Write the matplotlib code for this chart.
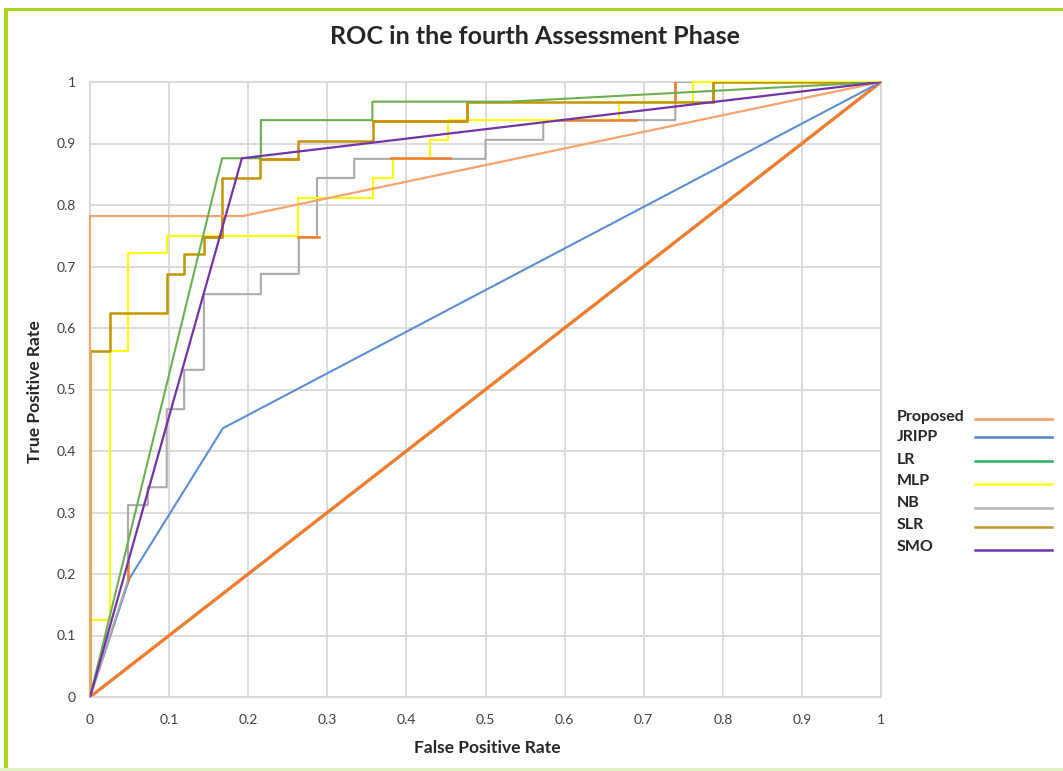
import numpy as np
import matplotlib
matplotlib.use("Agg")
import matplotlib.pyplot as plt
from matplotlib.lines import Line2D
from matplotlib.patches import Rectangle

# ---- data ----
prop_fpr = [0, 0, 0.193, 1]
prop_tpr = [0, 0.782, 0.782, 1]

jripp_fpr = [0, 0.05, 0.168, 1]
jripp_tpr = [0, 0.193, 0.437, 1]

lr_fpr = [0, 0.167, 0.216, 0.216, 0.357, 0.357, 0.53, 1]
lr_tpr = [0, 0.876, 0.876, 0.938, 0.938, 0.968, 0.968, 1]

mlp_fpr = [0, 0, 0.025, 0.025, 0.048, 0.048, 0.097, 0.097, 0.263, 0.263, 0.358, 0.358,
           0.383, 0.383, 0.43, 0.43, 0.452, 0.452, 0.669, 0.669, 0.762, 0.762, 1.0]
mlp_tpr = [0, 0.125, 0.125, 0.563, 0.563, 0.722, 0.722, 0.75, 0.75, 0.811, 0.811, 0.844,
           0.844, 0.875, 0.875, 0.906, 0.906, 0.938, 0.938, 0.967, 0.967, 1.0, 1.0]

nb_fpr = [0, 0.048, 0.048, 0.073, 0.073, 0.097, 0.097, 0.119, 0.119, 0.144, 0.144, 0.216,
          0.216, 0.264, 0.264, 0.287, 0.287, 0.334, 0.334, 0.5, 0.5, 0.573, 0.573, 0.74,
          0.74, 1.0]
nb_tpr = [0, 0.19, 0.312, 0.312, 0.341, 0.341, 0.468, 0.468, 0.532, 0.532, 0.655, 0.655,
          0.688, 0.688, 0.748, 0.748, 0.844, 0.844, 0.875, 0.875, 0.906, 0.906, 0.938, 0.938,
          1.0, 1.0]

slr_fpr = [0, 0, 0.025, 0.025, 0.097, 0.097, 0.119, 0.119, 0.144, 0.144, 0.167, 0.167,
           0.215, 0.215, 0.263, 0.263, 0.358, 0.358, 0.477, 0.477, 0.788, 0.788, 1.0]
slr_tpr = [0, 0.563, 0.563, 0.625, 0.625, 0.688, 0.688, 0.72, 0.72, 0.748, 0.748, 0.844,
           0.844, 0.875, 0.875, 0.904, 0.904, 0.937, 0.937, 0.967, 0.967, 1.0, 1.0]

smo_fpr = [0, 0.192, 1]
smo_tpr = [0, 0.876, 1]

# unlabelled series: thick diagonal and orange fragments
diag_fpr = [0, 1]
diag_tpr = [0, 1]

frag_fpr = [0.048, 0.048, np.nan, 0.143, 0.167, 0.167, np.nan, 0.215, 0.263, np.nan,
            0.263, 0.29, np.nan, 0.358, 0.477, 0.477, np.nan, 0.38, 0.455, np.nan,
            0.594, 0.69, np.nan, 0.74, 0.74, np.nan, 0.788, 0.788]
frag_tpr = [0.19, 0.22, np.nan, 0.748, 0.748, 0.78, np.nan, 0.875, 0.875, np.nan,
            0.748, 0.748, np.nan, 0.937, 0.937, 0.967, np.nan, 0.876, 0.876, np.nan,
            0.938, 0.938, np.nan, 0.967, 1.0, np.nan, 0.967, 1.0]

labels = ["Proposed", "JRIPP", "LR", "MLP", "NB", "SLR", "SMO"]
colors = ["#F4A46C", "#5B8ED6", "#6DAF4E", "#FFFF00", "#ABABAB", "#C29500", "#7234A6"]
legend_colors = ["#F09A62", "#4F86CF", "#2EAE68", "#FFFF1A", "#B4B4B4", "#C29C2A", "#7232B0"]

tick_vals = [0, 0.1, 0.2, 0.3, 0.4, 0.5, 0.6, 0.7, 0.8, 0.9, 1]
tick_labels = ["0", "0.1", "0.2", "0.3", "0.4", "0.5", "0.6", "0.7", "0.8", "0.9", "1"]

plt.rcParams['font.family'] = ['Lato', 'DejaVu Sans']

W, H = 1063, 771
fig = plt.figure(figsize=(W / 100, H / 100), dpi=100)
fig.patch.set_facecolor("white")


def fx(px):
    return px / W


def fy(py):
    return 1 - py / H


# frame
fig.add_artist(Rectangle((fx(4), 0), fx(4), 1 - 8 / H, transform=fig.transFigure,
                         facecolor="#A8D41C", edgecolor="none"))
fig.add_artist(Rectangle((fx(4), fy(11)), 1, 3 / H, transform=fig.transFigure,
                         facecolor="#A8D41C", edgecolor="none"))
fig.add_artist(Rectangle((0, 0), 1, 3 / H, transform=fig.transFigure,
                         facecolor="#E4F3C4", edgecolor="none"))

ax = fig.add_axes([fx(90), fy(697), (881 - 90) / W, (697 - 82) / H])
ax.set_xlim(0, 1)
ax.set_ylim(0, 1)
ax.set_xticks(tick_vals)
ax.set_yticks(tick_vals)
ax.set_xticklabels(tick_labels)
ax.set_yticklabels(tick_labels)
ax.tick_params(length=0, labelsize=10, colors="#404040")
ax.tick_params(axis="x", pad=12)
ax.tick_params(axis="y", pad=10)
ax.grid(True, color="#D9D9D9", linewidth=1.3)
ax.set_axisbelow(True)
for s in ax.spines.values():
    s.set_color("#D9D9D9")
    s.set_linewidth(1.3)

ax.plot(diag_fpr, diag_tpr, color="#ED7D31", linewidth=2.4, zorder=2)
ax.plot(jripp_fpr, jripp_tpr, color=colors[1], linewidth=1.5, zorder=3)
ax.plot(nb_fpr, nb_tpr, color=colors[4], linewidth=1.5, zorder=3)
ax.plot(mlp_fpr, mlp_tpr, color=colors[3], linewidth=1.5, zorder=3, clip_on=False)
ax.plot(frag_fpr, frag_tpr, color="#ED7D31", linewidth=1.8, zorder=4)
ax.plot(slr_fpr, slr_tpr, color=colors[5], linewidth=1.8, zorder=5)
ax.plot(prop_fpr, prop_tpr, color=colors[0], linewidth=1.6, zorder=5.5, clip_on=False)
ax.plot(lr_fpr, lr_tpr, color=colors[2], linewidth=1.5, zorder=6)
ax.plot(smo_fpr, smo_tpr, color=colors[6], linewidth=1.6, zorder=6)

# legend (Excel style: label first, line after)
text_y = [417, 437, 460, 481, 503, 525, 547]
line_y = [419, 437, 461, 484, 508, 527, 550]
for lab, c, ty, ly in zip(labels, legend_colors, text_y, line_y):
    fig.text(fx(897), fy(ty), lab, ha="left", va="center", fontsize=11.5,
             fontweight="bold", color="#262626")
    fig.add_artist(Line2D([fx(975), fx(1052)], [fy(ly), fy(ly)], transform=fig.transFigure,
                          color=c, linewidth=1.8))

fig.text(fx(535), fy(37), "ROC in the fourth Assessment Phase", ha="center", va="center",
         fontsize=18, fontweight="bold", color="#262626")
fig.text(fx(487), fy(748), "False Positive Rate", ha="center", va="center",
         fontsize=12.5, fontweight="bold", color="#262626")
fig.text(fx(35), fy(392), "True Positive Rate", ha="center", va="center",
         rotation=90, fontsize=12.5, fontweight="bold", color="#262626")

fig.savefig("out.png", dpi=100)
